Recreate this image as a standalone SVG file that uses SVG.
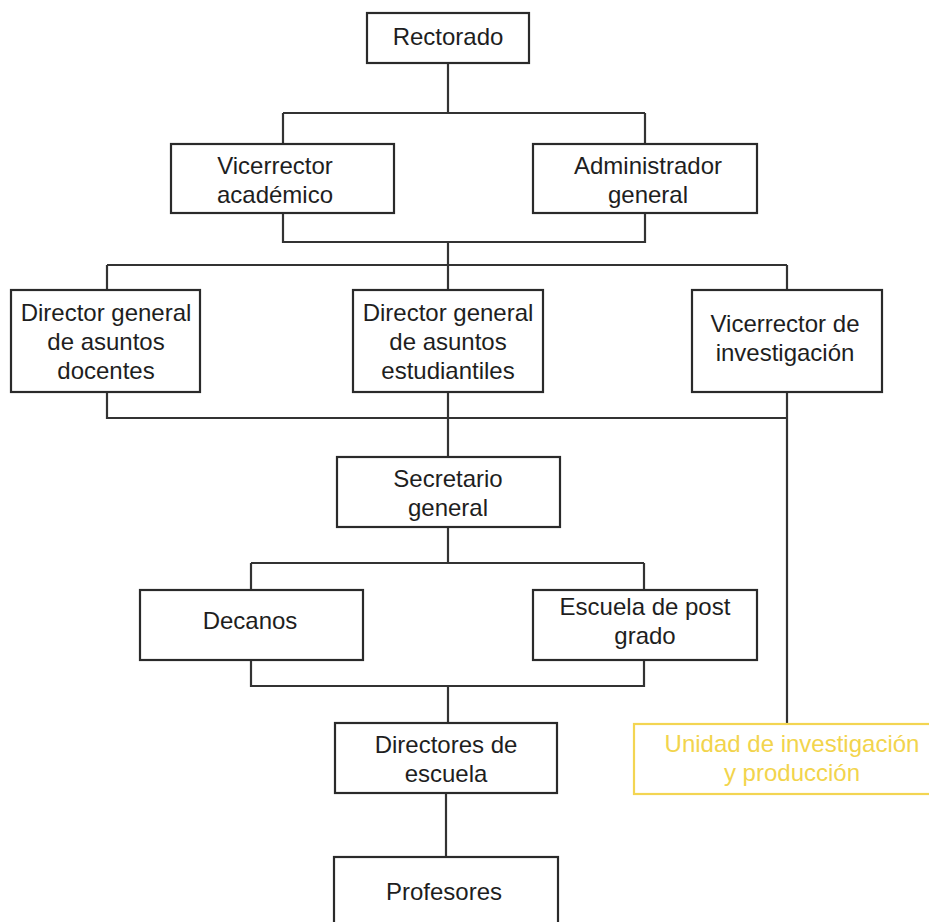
<svg xmlns="http://www.w3.org/2000/svg" width="929" height="922" viewBox="0 0 929 922">
<style>
.box{fill:#ffffff;stroke:#2a2a2a;stroke-width:2.2}
.ybox{fill:#ffffff;stroke:#f3d552;stroke-width:2.2}
.t{font-family:"Liberation Sans",Arial,sans-serif;font-size:24px;fill:#1e1e1e;text-anchor:middle}
.yt{font-family:"Liberation Sans",Arial,sans-serif;font-size:24px;fill:#f2d44c;text-anchor:middle}
.c{fill:none;stroke:#333333;stroke-width:2.2}
</style>
<rect width="929" height="922" fill="#ffffff"/>
<g id="connectors" class="c">
<path d="M448 63V113M283 113H645M283 113V143M645 113V143"/>
<path d="M283 213V242H645V213M448 242V290"/>
<path d="M107 265H787M107 265V290M787 265V290"/>
<path d="M107 392V418H787M448 392V457M787 392V724"/>
<path d="M448 527V563M251 563H644M251 563V590M644 563V590"/>
<path d="M251 660V686H644V660M448 686V723"/>
<path d="M446 793V857"/>
</g>
<g id="rectorado"><rect class="box" x="367" y="13" width="162" height="50"/><text class="t" x="448" y="45">Rectorado</text></g>
<g id="vicerrector-academico"><rect class="box" x="171" y="144" width="223" height="69"/><text class="t" x="275" y="174">Vicerrector</text><text class="t" x="275" y="203">académico</text></g>
<g id="administrador-general"><rect class="box" x="533" y="144" width="224" height="69"/><text class="t" x="648" y="174">Administrador</text><text class="t" x="648" y="203">general</text></g>
<g id="dg-docentes"><rect class="box" x="11" y="290" width="189" height="102"/><text class="t" x="106" y="321">Director general</text><text class="t" x="106" y="350">de asuntos</text><text class="t" x="106" y="379">docentes</text></g>
<g id="dg-estudiantiles"><rect class="box" x="353" y="290" width="190" height="102"/><text class="t" x="448" y="321">Director general</text><text class="t" x="448" y="350">de asuntos</text><text class="t" x="448" y="379">estudiantiles</text></g>
<g id="vicerrector-investigacion"><rect class="box" x="692" y="290" width="190" height="102"/><text class="t" x="785" y="332">Vicerrector de</text><text class="t" x="785" y="361">investigación</text></g>
<g id="secretario-general"><rect class="box" x="337" y="457" width="223" height="70"/><text class="t" x="448" y="487">Secretario</text><text class="t" x="448" y="516">general</text></g>
<g id="decanos"><rect class="box" x="140" y="590" width="223" height="70"/><text class="t" x="250" y="629">Decanos</text></g>
<g id="escuela-postgrado"><rect class="box" x="533" y="590" width="224" height="70"/><text class="t" x="645" y="615">Escuela de post</text><text class="t" x="645" y="644">grado</text></g>
<g id="directores-escuela"><rect class="box" x="335" y="723" width="222" height="70"/><text class="t" x="446" y="753">Directores de</text><text class="t" x="446" y="782">escuela</text></g>
<g id="profesores"><rect class="box" x="334" y="857" width="224" height="80"/><text class="t" x="444" y="900">Profesores</text></g>
<g id="unidad-investigacion"><rect class="ybox" x="634" y="724" width="320" height="70"/><text class="yt" x="792" y="752">Unidad de investigación</text><text class="yt" x="792" y="781">y producción</text></g>
</svg>
